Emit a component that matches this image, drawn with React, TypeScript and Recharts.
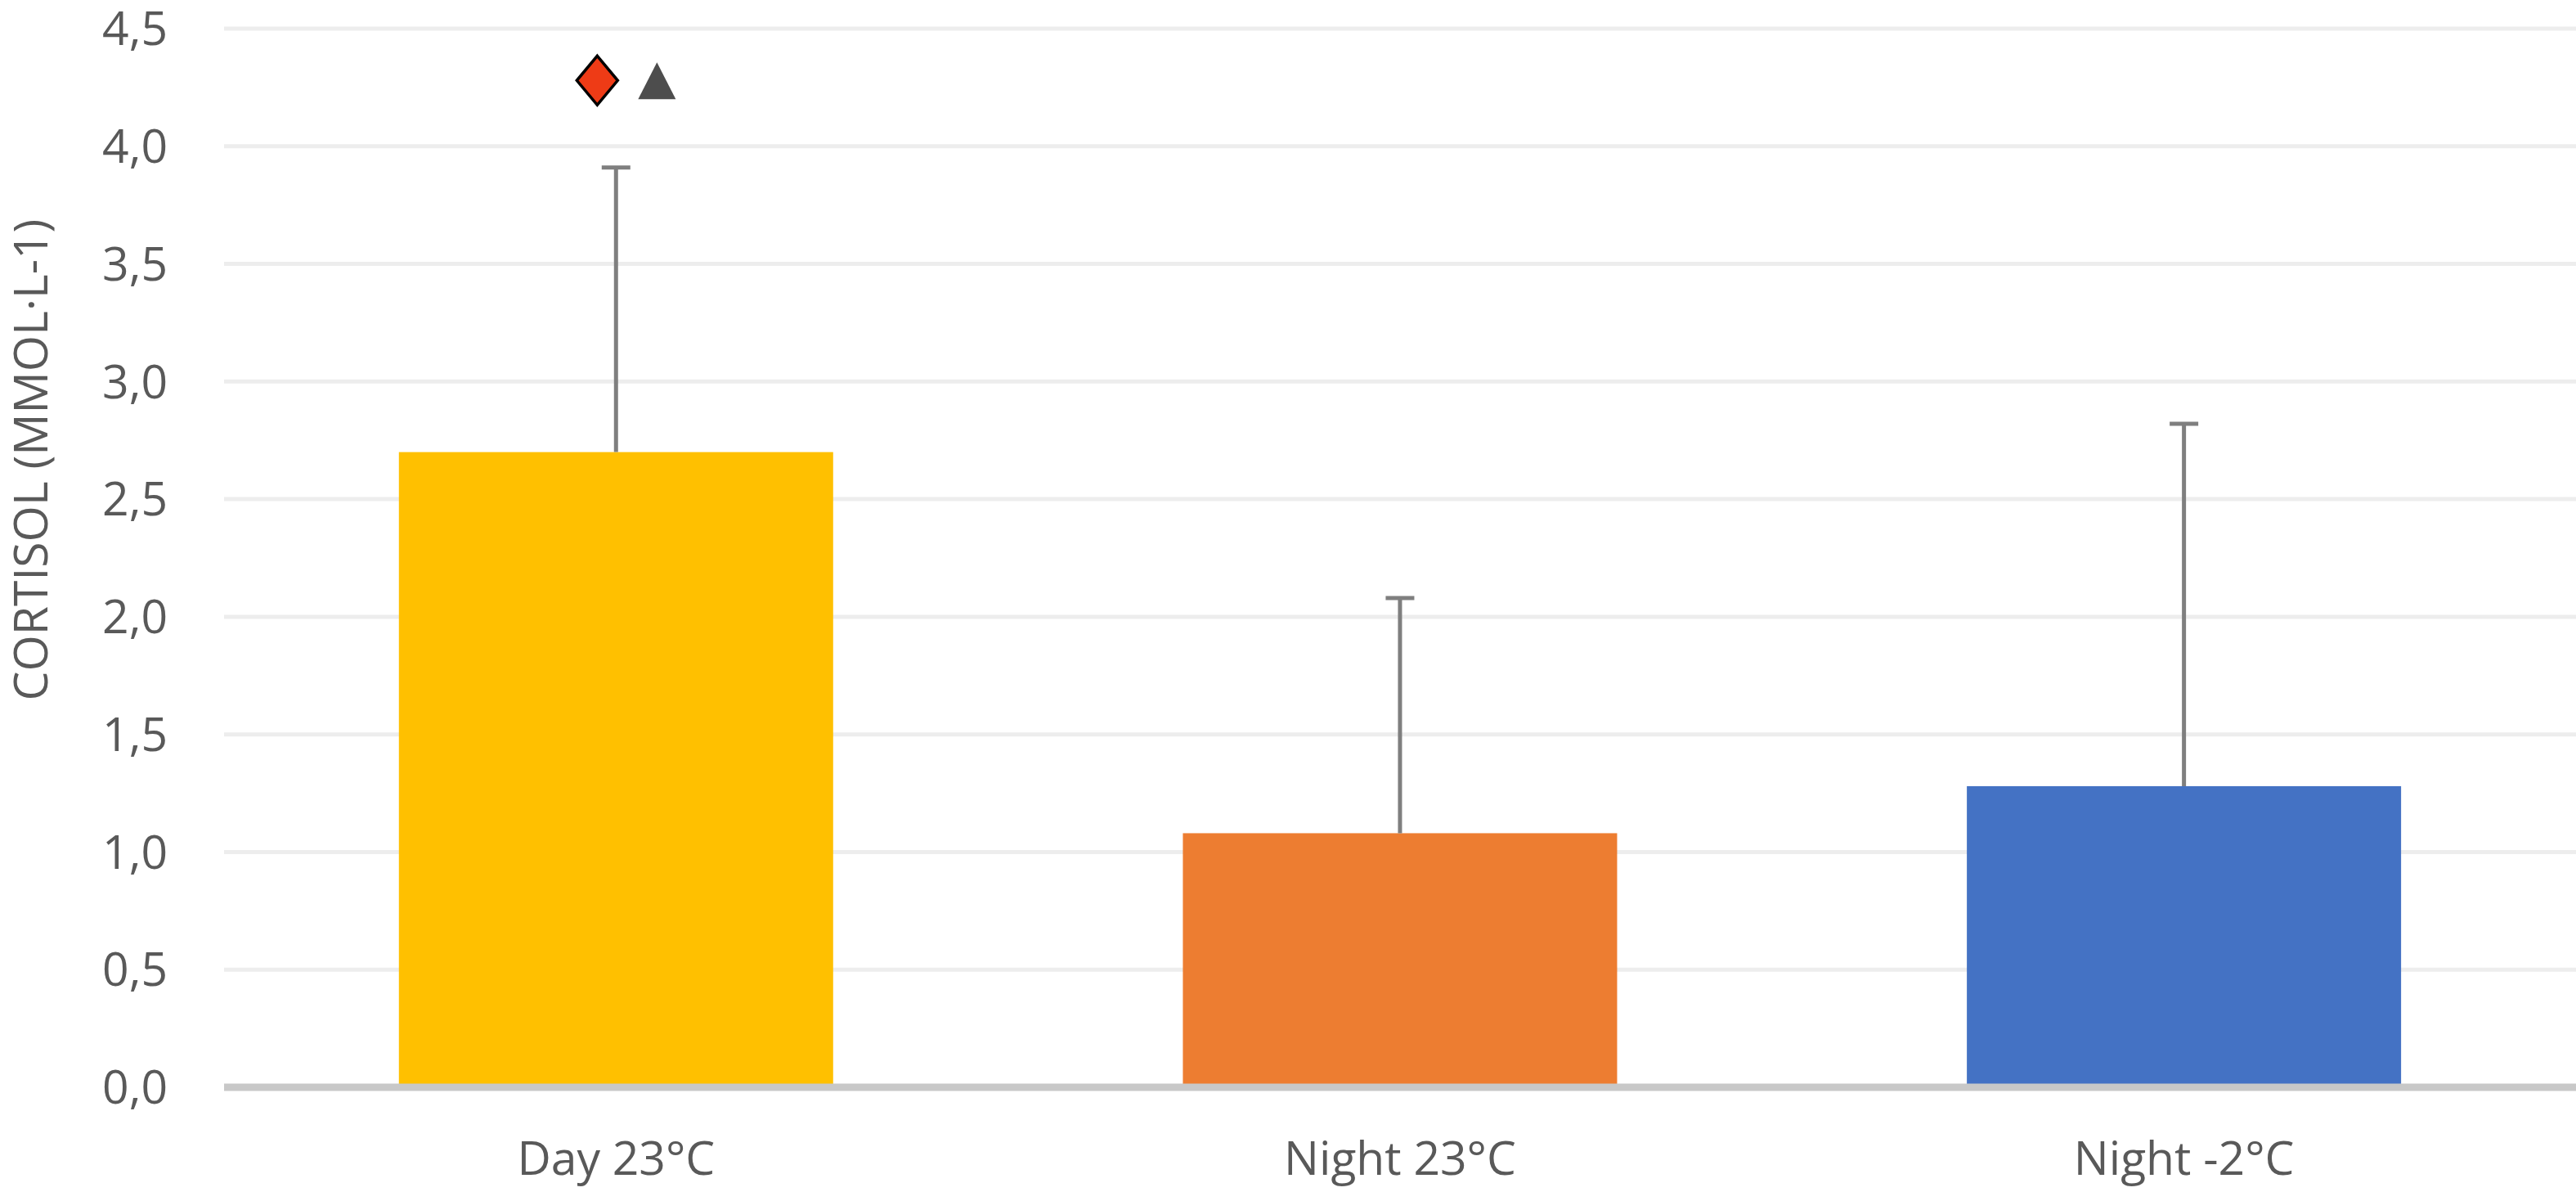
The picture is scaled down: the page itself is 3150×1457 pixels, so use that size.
import React from 'react';
import { ComposedChart, Bar, Scatter, XAxis, YAxis, CartesianGrid, Cell } from 'recharts';

const categories = ['Day 23°C', 'Night 23°C', 'Night -2°C'];
const means = [2.7, 1.08, 1.28];
const sds = [1.21, 1.0, 1.54];
const markerLevels: (number | null)[] = [4.28, null, null];
const barColors = ['#FFC000', '#ED7D31', '#4472C4'];
const yTicks = [0, 0.5, 1, 1.5, 2, 2.5, 3, 3.5, 4, 4.5];

const data = categories.map((name, i) => ({
  name,
  mean: means[i],
  sd: sds[i],
  marker: markerLevels[i],
}));

const FONT = '"Open Sans", sans-serif';
const TEXT = '#595959';
const ERR = '#7f7f7f';

// bar + upper-only error whisker (scale taken from the bar's own height/value)
const BarWithError = (props: any) => {
  const { x, y, width, height, payload, fill } = props;
  if (!payload || !payload.mean) return <g />;
  const perUnit = height / payload.mean;
  const top = y - payload.sd * perUnit;
  const cx = x + width / 2;
  return (
    <g>
      <rect x={x} y={y} width={width} height={height} fill={fill} />
      <line x1={cx} x2={cx} y1={y} y2={top} stroke={ERR} strokeWidth={5} />
      <line x1={cx - 17.5} x2={cx + 17.5} y1={top} y2={top} stroke={ERR} strokeWidth={5} />
    </g>
  );
};

// significance symbols above the bar
const SigMarkers = (props: any) => {
  const { cx, cy, payload } = props;
  if (!payload || payload.marker == null) return <g />;
  const dx = cx - 23;
  const tx = cx + 50;
  return (
    <g>
      <polygon
        points={`${dx},${cy - 30} ${dx + 25},${cy} ${dx},${cy + 30} ${dx - 25},${cy}`}
        fill="#EE3B16"
        stroke="#000"
        strokeWidth={3.5}
      />
      <polygon
        points={`${tx},${cy - 22} ${tx + 23},${cy + 23} ${tx - 23},${cy + 23}`}
        fill="#4d4d4d"
      />
    </g>
  );
};

const YLabel = () => (
  <text
    x={36}
    y={562}
    transform="rotate(-90, 36, 562)"
    textAnchor="middle"
    dominantBaseline="central"
    fill={TEXT}
    fontSize={57}
    fontFamily={FONT}
  >
    CORTISOL (MMOL·L-1)
  </text>
);

export default function App() {
  return (
    <div>
      <style>{'body{margin:0;background:#fff}'}</style>
      <ComposedChart
        width={3150}
        height={1457}
        data={data}
        margin={{ top: 35, right: 0, bottom: 0, left: 0 }}
        barCategoryGap="22.3%"
      >
        <CartesianGrid vertical={false} stroke="#ededed" strokeWidth={5} />
        <XAxis
          dataKey="name"
          interval={0}
          height={128}
          tickLine={false}
          tickSize={0}
          tickMargin={67}
          axisLine={{ stroke: '#c8c8c8', strokeWidth: 9 }}
          tick={{ fill: TEXT, fontSize: 57, fontFamily: FONT }}
        />
        <YAxis
          domain={[0, 4.5]}
          ticks={yTicks}
          width={274}
          axisLine={false}
          tickLine={false}
          tickSize={0}
          tickMargin={69}
          tickFormatter={(v: number) => v.toFixed(1).replace('.', ',')}
          tick={{ fill: TEXT, fontSize: 57, fontFamily: FONT }}
          label={{ content: YLabel }}
        />
        <Bar dataKey="mean" shape={BarWithError} isAnimationActive={false}>
          {data.map((d, i) => (
            <Cell key={d.name} fill={barColors[i]} />
          ))}
        </Bar>
        <Scatter dataKey="marker" shape={SigMarkers} isAnimationActive={false} />
      </ComposedChart>
    </div>
  );
}
